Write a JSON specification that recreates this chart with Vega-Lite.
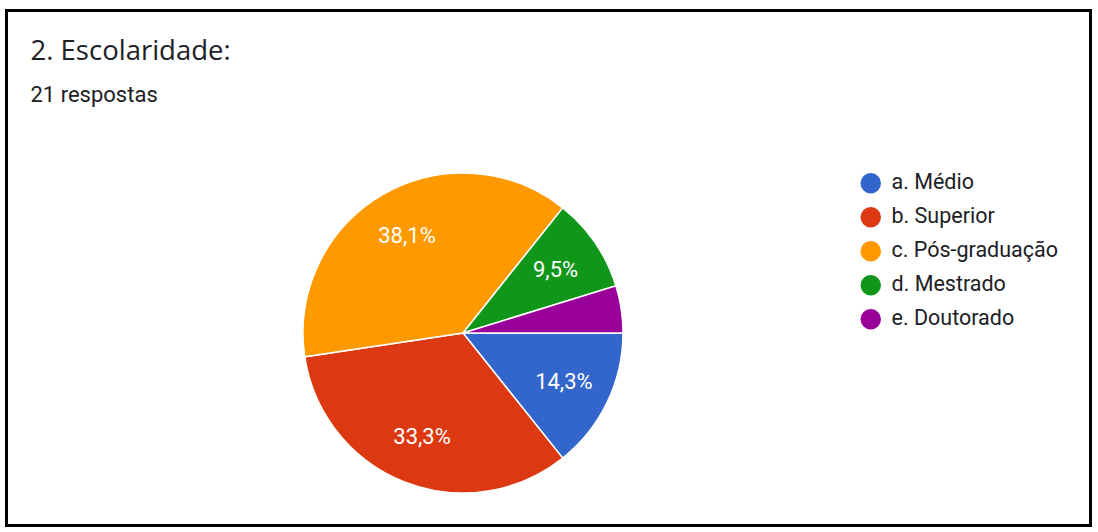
{
  "$schema": "https://vega.github.io/schema/vega-lite/v6.json",
  "width": 1084,
  "height": 515,
  "autosize": "none",
  "padding": {"left": 6.5, "top": 10.5, "right": 7.5, "bottom": 6.5},
  "background": "white",
  "view": {"stroke": "black", "strokeWidth": 3, "fill": "white"},
  "config": {"view": {"stroke": "black", "strokeWidth": 3}},
  "title": {
    "text": "2. Escolaridade:",
    "subtitle": "21 respostas",
    "anchor": "start",
    "frame": "group",
    "orient": "top",
    "offset": -95,
    "dx": 24,
    "font": "Open Sans",
    "fontSize": 27.5,
    "fontWeight": "normal",
    "color": "#202124",
    "subtitleFont": "Roboto",
    "subtitleFontSize": 22,
    "subtitleColor": "#202124",
    "subtitlePadding": 19
  },
  "data": {
    "values": [
      {"idx": 1, "cat": "a. Médio", "count": 3, "label": "14,3%"},
      {"idx": 2, "cat": "b. Superior", "count": 7, "label": "33,3%"},
      {"idx": 3, "cat": "c. Pós-graduação", "count": 8, "label": "38,1%"},
      {"idx": 4, "cat": "d. Mestrado", "count": 2, "label": "9,5%"},
      {"idx": 5, "cat": "e. Doutorado", "count": 1, "label": ""}
    ]
  },
  "encoding": {
    "theta": {"field": "count", "type": "quantitative", "stack": true, "scale": {"range": [1.5707963, 7.8539816]}},
    "order": {"field": "idx", "type": "quantitative", "sort": "ascending"}
  },
  "layer": [
    {
      "mark": {"type": "arc", "outerRadius": 160, "x": 456.5, "y": 322.5, "stroke": "white", "strokeWidth": 1.5},
      "encoding": {
        "color": {
          "field": "cat",
          "type": "nominal",
          "scale": {
            "domain": ["a. Médio", "b. Superior", "c. Pós-graduação", "d. Mestrado", "e. Doutorado"],
            "range": ["#3366CC", "#DC3912", "#FF9900", "#109618", "#990099"]
          },
          "legend": {
            "title": null,
            "orient": "none",
            "legendX": 853.5,
            "legendY": 162,
            "padding": 0,
            "symbolType": "circle",
            "symbolSize": 420,
            "symbolStrokeWidth": 0,
            "labelFont": "Roboto",
            "labelFontSize": 21.5,
            "labelColor": "#202124",
            "labelOffset": 10,
            "rowPadding": 11,
            "labelLimit": 400
          }
        }
      }
    },
    {
      "mark": {"type": "text", "radius": 112, "x": 456.5, "y": 322.5, "fill": "white", "font": "Roboto", "fontSize": 22},
      "encoding": {
        "text": {"field": "label"},
        "detail": {"field": "cat"}
      }
    }
  ]
}
